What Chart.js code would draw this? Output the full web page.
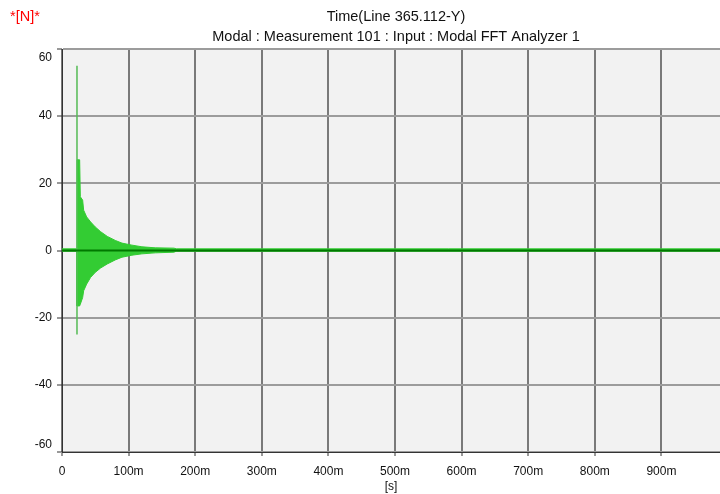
<!DOCTYPE html>
<html>
<head>
<meta charset="utf-8">
<title>Time(Line 365.112-Y)</title>
<script src="https://cdn.jsdelivr.net/npm/chart.js@4/dist/chart.umd.min.js"></script>
<style>
  html, body { margin: 0; padding: 0; background: #fff; }
  #wrap { width: 720px; height: 494px; }
</style>
</head>
<body>
<div id="wrap"><canvas id="timeChart" width="720" height="494"></canvas></div>
<script>
/* ---- impact response: envelope of the ringing signal (time in ms) ---- */
const timeMs   = [0,    22,   22.5,  26.5,  27.5, 31,  32.5, 37,  43,  50,   58,   68,   80,   90,   105,  120,  140,  168,  172,  988];
const upperEnv = [0.5,  0.5,  27,    27,    16,   15,  12,   10,  8.5, 7,    5.6,  4.2,  3,    2.2,  1.6,  1.1,  0.8,  0.7,  0.5,  0.5];
const lowerEnv = [-0.2, -0.2, -16.5, -16.5, -16,  -14, -12,  -10, -8,  -6.5, -5.2, -4,   -2.8, -2,   -1.4, -1.0, -0.7, -0.5, -0.2, -0.2];

// the hammer hit itself: a single sample pair
const spikeTime = [22.5, 22.5];
const spikeValue = [55, -25];

const xTickValues = [0, 100, 200, 300, 400, 500, 600, 700, 800, 900];
const yTickValues = [-60, -40, -20, 0, 20, 40, 60];
const xMax = 988;

const titleLines = ['Time(Line 365.112-Y)', 'Modal : Measurement 101 : Input : Modal FFT Analyzer 1'];
const flagText = '*[N]*';

const FONT = "'Liberation Sans', Arial, sans-serif";

/* ---- plugins ---- */
const plotBackground = {
  id: 'plotBackground',
  beforeDraw(chart) {
    const { ctx, chartArea: a } = chart;
    ctx.save();
    ctx.fillStyle = '#f2f2f2';
    ctx.fillRect(a.left, a.top, a.right - a.left, a.bottom - a.top);
    ctx.restore();
  },
};

// y labels sit beside their ticks, but the end ones are pulled inside the plot
const yLabels = {
  id: 'yLabels',
  afterDraw(chart) {
    const { ctx, chartArea: a } = chart;
    const y = chart.scales.y;
    ctx.save();
    ctx.font = `12px ${FONT}`;
    ctx.fillStyle = '#111';
    ctx.textAlign = 'right';
    ctx.textBaseline = 'middle';
    yTickValues.forEach((v) => {
      let py = y.getPixelForValue(v);
      py = Math.min(Math.max(py, a.top + 9), a.bottom - 7);
      ctx.fillText(String(v), 52, py);
    });
    ctx.restore();
  },
};

const headerText = {
  id: 'headerText',
  afterDraw(chart) {
    const { ctx } = chart;
    ctx.save();
    ctx.font = `14.5px ${FONT}`;
    ctx.textBaseline = 'middle';
    ctx.fillStyle = '#ff0000';
    ctx.textAlign = 'left';
    ctx.fillText(flagText, 10, 17);
    ctx.fillStyle = '#111';
    ctx.textAlign = 'center';
    ctx.fillText(titleLines[0], 396, 17);
    ctx.fillText(titleLines[1], 396, 37);
    ctx.restore();
  },
};

/* ---- chart ---- */
const toPoints = (xs, ys) => xs.map((x, i) => ({ x, y: ys[i] }));

new Chart(document.getElementById('timeChart'), {
  type: 'line',
  data: {
    datasets: [
      {
        label: 'upper',
        data: toPoints(timeMs, upperEnv),
        borderColor: '#33cc33',
        backgroundColor: '#33cc33',
        borderWidth: 1,
        fill: '+1',
        order: 3,
      },
      {
        label: 'lower',
        data: toPoints(timeMs, lowerEnv),
        borderColor: '#33cc33',
        backgroundColor: '#33cc33',
        borderWidth: 1,
        fill: false,
        order: 4,
      },
      {
        label: 'spike',
        data: toPoints(spikeTime, spikeValue),
        borderColor: '#55bb55',
        borderWidth: 1.5,
        fill: false,
        order: 2,
      },
      {
        label: 'zero',
        data: [{ x: 0, y: 0 }, { x: xMax, y: 0 }],
        borderColor: '#007800',
        borderWidth: 2,
        fill: false,
        order: 1,
      },
    ],
  },
  options: {
    responsive: false,
    animation: false,
    events: [],
    elements: { point: { radius: 0 }, line: { tension: 0 } },
    layout: { padding: { top: 49, left: 0, right: 0, bottom: 0 } },
    plugins: {
      legend: { display: false },
      tooltip: { enabled: false },
      title: { display: false },
    },
    scales: {
      x: {
        type: 'linear',
        min: 0,
        max: xMax,
        afterBuildTicks: (s) => { s.ticks = xTickValues.map((v) => ({ value: v })); },
        afterFit: (s) => { s.height = 42; },
        ticks: {
          color: '#111',
          font: { family: FONT, size: 12 },
          padding: 8,
          maxRotation: 0,
          callback: (v) => (v === 0 ? '0' : `${v}m`),
        },
        grid: {
          color: '#7a7a7a',
          lineWidth: 2,
          tickColor: '#333',
          tickWidth: 1,
          tickLength: 4,
        },
        border: { display: true, color: '#333', width: 1 },
        title: {
          display: true,
          text: '[s]',
          color: '#111',
          font: { family: FONT, size: 12 },
          padding: { top: 0, bottom: 0 },
        },
      },
      y: {
        type: 'linear',
        min: -60,
        max: 60,
        afterBuildTicks: (s) => { s.ticks = yTickValues.map((v) => ({ value: v })); },
        afterFit: (s) => { s.width = 62; },
        ticks: { display: false },
        grid: {
          color: '#9c9c9c',
          lineWidth: 2,
          tickColor: '#333',
          tickWidth: 1,
          tickLength: 5,
        },
        border: { display: true, color: '#333', width: 1 },
      },
    },
  },
  plugins: [plotBackground, yLabels, headerText],
});
</script>
</body>
</html>
